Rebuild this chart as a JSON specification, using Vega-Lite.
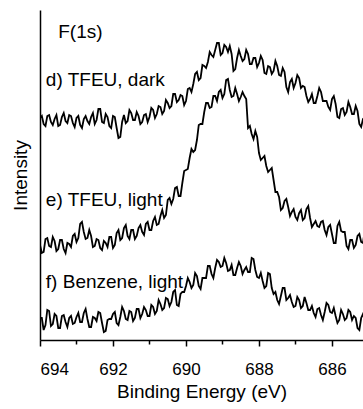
{
  "$schema": "https://vega.github.io/schema/vega-lite/v6.json",
  "width": 323,
  "height": 330,
  "autosize": {"type": "none"},
  "padding": {"left": 40, "top": 10, "right": 0, "bottom": 69},
  "background": "white",
  "config": {
    "font": "Liberation Sans",
    "view": {"stroke": null},
    "axis": {"grid": false, "domainColor": "black", "domainWidth": 1.5, "tickColor": "black", "tickWidth": 1.5, "labelColor": "black", "titleColor": "black", "titleFontWeight": "normal"}
  },
  "layer": [
    {
      "data": {"values": [
        {"E":694.0,"d":222,"e":95,"f":22},{"E":693.9,"d":216,"e":88,"f":10},{"E":693.8,"d":224,"e":102,"f":30},{"E":693.7,"d":218,"e":93,"f":14},{"E":693.6,"d":221,"e":99,"f":26},
        {"E":693.5,"d":214,"e":91,"f":12},{"E":693.4,"d":223,"e":100,"f":24},{"E":693.3,"d":219,"e":87,"f":18},{"E":693.2,"d":225,"e":96,"f":22},{"E":693.1,"d":217,"e":104,"f":16},
        {"E":693.0,"d":222,"e":98,"f":23},{"E":692.9,"d":215,"e":116,"f":18},{"E":692.8,"d":221,"e":108,"f":27},{"E":692.7,"d":219,"e":102,"f":21},{"E":692.6,"d":223,"e":104,"f":13},
        {"E":692.5,"d":216,"e":94,"f":22},{"E":692.4,"d":231,"e":100,"f":28},{"E":692.3,"d":218,"e":90,"f":17},{"E":692.2,"d":226,"e":97,"f":9},{"E":692.1,"d":214,"e":103,"f":21},
        {"E":692.0,"d":224,"e":92,"f":26},{"E":691.9,"d":212,"e":107,"f":17},{"E":691.8,"d":203,"e":100,"f":23},{"E":691.7,"d":225,"e":112,"f":29},{"E":691.6,"d":219,"e":104,"f":20},
        {"E":691.5,"d":227,"e":110,"f":28},{"E":691.4,"d":220,"e":101,"f":22},{"E":691.3,"d":224,"e":112,"f":31},{"E":691.2,"d":218,"e":108,"f":26},{"E":691.1,"d":226,"e":116,"f":30},
        {"E":691.0,"d":223,"e":110,"f":24},{"E":690.9,"d":230,"e":119,"f":33},{"E":690.8,"d":226,"e":115,"f":29},{"E":690.7,"d":233,"e":124,"f":36},{"E":690.6,"d":229,"e":122,"f":32},
        {"E":690.5,"d":237,"e":140,"f":41},{"E":690.4,"d":234,"e":136,"f":38},{"E":690.3,"d":246,"e":152,"f":50},{"E":690.2,"d":240,"e":144,"f":34},{"E":690.1,"d":244,"e":157,"f":48},
        {"E":690.0,"d":239,"e":170,"f":54},{"E":689.9,"d":252,"e":182,"f":58},{"E":689.8,"d":256,"e":188,"f":55},{"E":689.7,"d":268,"e":200,"f":64},{"E":689.6,"d":262,"e":216,"f":51},
        {"E":689.5,"d":274,"e":228,"f":62},{"E":689.4,"d":278,"e":237,"f":74},{"E":689.3,"d":285,"e":233,"f":66},{"E":689.2,"d":290,"e":244,"f":72},{"E":689.1,"d":297,"e":248,"f":78},
        {"E":689.0,"d":287,"e":242,"f":74},{"E":688.9,"d":293,"e":260,"f":77},{"E":688.8,"d":294,"e":250,"f":70},{"E":688.7,"d":269,"e":244,"f":65},{"E":688.6,"d":282,"e":246,"f":72},
        {"E":688.5,"d":284,"e":243,"f":74},{"E":688.4,"d":281,"e":244,"f":70},{"E":688.3,"d":286,"e":212,"f":68},{"E":688.2,"d":276,"e":206,"f":82},{"E":688.1,"d":282,"e":209,"f":70},
        {"E":688.0,"d":277,"e":187,"f":62},{"E":687.9,"d":280,"e":182,"f":59},{"E":687.8,"d":266,"e":174,"f":54},{"E":687.7,"d":273,"e":170,"f":66},{"E":687.6,"d":269,"e":160,"f":46},
        {"E":687.5,"d":274,"e":148,"f":40},{"E":687.4,"d":264,"e":130,"f":44},{"E":687.3,"d":268,"e":139,"f":52},{"E":687.2,"d":248,"e":133,"f":42},{"E":687.1,"d":261,"e":128,"f":38},
        {"E":687.0,"d":257,"e":123,"f":34},{"E":686.9,"d":262,"e":127,"f":40},{"E":686.8,"d":254,"e":120,"f":34},{"E":686.7,"d":244,"e":131,"f":37},{"E":686.6,"d":241,"e":122,"f":30},
        {"E":686.5,"d":237,"e":116,"f":27},{"E":686.4,"d":244,"e":114,"f":31},{"E":686.3,"d":248,"e":118,"f":25},{"E":686.2,"d":239,"e":110,"f":28},{"E":686.1,"d":233,"e":113,"f":35},
        {"E":686.0,"d":241,"e":106,"f":27},{"E":685.9,"d":236,"e":97,"f":24},{"E":685.8,"d":222,"e":118,"f":20},{"E":685.7,"d":232,"e":108,"f":26},{"E":685.6,"d":228,"e":94,"f":22},
        {"E":685.5,"d":233,"e":100,"f":28},{"E":685.4,"d":226,"e":92,"f":24},{"E":685.3,"d":229,"e":104,"f":12},{"E":685.2,"d":213,"e":98,"f":22},{"E":685.1,"d":223,"e":110,"f":20},
        {"E":693.95,"d":224,"e":87,"f":22},{"E":693.85,"d":214,"e":101,"f":15},{"E":693.75,"d":225,"e":94,"f":29},{"E":693.65,"d":215,"e":103,"f":16},{"E":693.55,"d":225,"e":89,"f":24},
        {"E":693.45,"d":215,"e":100,"f":12},{"E":693.35,"d":227,"e":91,"f":25},{"E":693.25,"d":217,"e":97,"f":13},{"E":693.15,"d":224,"e":93,"f":24},{"E":693.05,"d":213,"e":106,"f":17},
        {"E":692.95,"d":224,"e":102,"f":27},{"E":692.85,"d":212,"e":118,"f":18},{"E":692.75,"d":224,"e":101,"f":31},{"E":692.65,"d":216,"e":110,"f":13},{"E":692.55,"d":227,"e":93,"f":23},
        {"E":692.45,"d":220,"e":101,"f":19},{"E":692.35,"d":231,"e":92,"f":27},{"E":692.25,"d":217,"e":99,"f":8},{"E":692.15,"d":223,"e":93,"f":20},{"E":692.05,"d":212,"e":103,"f":21},
        {"E":691.95,"d":223,"e":95,"f":28},{"E":691.85,"d":202,"e":110,"f":15},{"E":691.75,"d":218,"e":102,"f":33},{"E":691.65,"d":217,"e":115,"f":21},{"E":691.55,"d":230,"e":101,"f":29},
        {"E":691.45,"d":220,"e":110,"f":19},{"E":691.35,"d":228,"e":104,"f":31},{"E":691.25,"d":216,"e":115,"f":22},{"E":691.15,"d":225,"e":105,"f":33},{"E":691.05,"d":218,"e":118,"f":24},
        {"E":690.95,"d":232,"e":110,"f":35},{"E":690.85,"d":222,"e":123,"f":26},{"E":690.75,"d":234,"e":116,"f":40},{"E":690.65,"d":226,"e":130,"f":30},{"E":690.55,"d":240,"e":125,"f":42},
        {"E":690.45,"d":232,"e":142,"f":34},{"E":690.35,"d":246,"e":141,"f":48},{"E":690.25,"d":238,"e":153,"f":35},{"E":690.15,"d":245,"e":144,"f":46},{"E":690.05,"d":235,"e":169,"f":48},
        {"E":689.95,"d":251,"e":171,"f":62},{"E":689.85,"d":248,"e":191,"f":52},{"E":689.75,"d":266,"e":190,"f":67},{"E":689.65,"d":260,"e":215,"f":54},{"E":689.55,"d":275,"e":216,"f":62},
        {"E":689.45,"d":272,"e":237,"f":62},{"E":689.35,"d":288,"e":232,"f":74},{"E":689.25,"d":283,"e":244,"f":62},{"E":689.15,"d":297,"e":239,"f":80},{"E":689.05,"d":285,"e":250,"f":73},
        {"E":688.95,"d":295,"e":246,"f":82},{"E":688.85,"d":288,"e":261,"f":69},{"E":688.75,"d":286,"e":243,"f":75},{"E":688.65,"d":271,"e":252,"f":65},{"E":688.55,"d":290,"e":239,"f":78},
        {"E":688.45,"d":279,"e":248,"f":66},{"E":688.35,"d":290,"e":241,"f":73},{"E":688.25,"d":276,"e":214,"f":68},{"E":688.15,"d":282,"e":201,"f":81},{"E":688.05,"d":273,"e":203,"f":63},
        {"E":687.95,"d":284,"e":180,"f":67},{"E":687.85,"d":267,"e":184,"f":52},{"E":687.75,"d":274,"e":168,"f":67},{"E":687.65,"d":266,"e":172,"f":52},{"E":687.55,"d":279,"e":148,"f":48},
        {"E":687.45,"d":265,"e":143,"f":36},{"E":687.35,"d":272,"e":132,"f":52},{"E":687.25,"d":253,"e":141,"f":40},{"E":687.15,"d":258,"e":124,"f":45},{"E":687.05,"d":252,"e":131,"f":33},
        {"E":686.95,"d":265,"e":120,"f":43},{"E":686.85,"d":252,"e":130,"f":32},{"E":686.75,"d":253,"e":122,"f":43},{"E":686.65,"d":238,"e":134,"f":30},{"E":686.55,"d":246,"e":113,"f":34},
        {"E":686.45,"d":237,"e":119,"f":23},{"E":686.35,"d":252,"e":113,"f":32},{"E":686.25,"d":239,"e":119,"f":20},{"E":686.15,"d":239,"e":105,"f":37},{"E":686.05,"d":230,"e":115,"f":28},
        {"E":685.95,"d":244,"e":97,"f":32},{"E":685.85,"d":223,"e":114,"f":17},{"E":685.75,"d":231,"e":109,"f":30},{"E":685.65,"d":225,"e":108,"f":20},{"E":685.55,"d":238,"e":91,"f":30},
        {"E":685.45,"d":226,"e":100,"f":20},{"E":685.35,"d":234,"e":95,"f":22},{"E":685.25,"d":216,"e":106,"f":10},{"E":685.15,"d":221,"e":97,"f":26}
      ]},
      "transform": [{"fold": ["d", "e", "f"], "as": ["series", "I"]}],
      "mark": {"type": "line", "color": "black", "strokeWidth": 1.8, "clip": true},
      "encoding": {
        "x": {
          "field": "E", "type": "quantitative",
          "scale": {"domain": [694, 685.15], "nice": false, "zero": false},
          "axis": {
            "title": "Binding Energy (eV)", "titleFontSize": 19, "titlePadding": 5,
            "values": [694, 693, 692, 691, 690, 689, 688, 687, 686],
            "labelExpr": "datum.value % 2 === 0 ? datum.label : ''",
            "format": "d", "labelFontSize": 17, "labelPadding": 15,
            "tickSize": {"expr": "datum.value % 2 === 0 ? 6 : 4"}
          }
        },
        "y": {
          "field": "I", "type": "quantitative",
          "scale": {"domain": [0, 330], "nice": false},
          "axis": {"title": "Intensity", "titleFontSize": 19, "titlePadding": 10, "ticks": false, "labels": false}
        },
        "detail": {"field": "series"}
      }
    },
    {
      "data": {"values": [
        {"E": 693.5, "I": 308, "label": "F(1s)"},
        {"E": 693.84, "I": 260, "label": "d) TFEU, dark"},
        {"E": 693.84, "I": 140, "label": "e) TFEU, light"},
        {"E": 693.84, "I": 58, "label": "f) Benzene, light"}
      ]},
      "mark": {"type": "text", "align": "left", "baseline": "middle", "fontSize": 19, "color": "black"},
      "encoding": {
        "x": {"field": "E", "type": "quantitative"},
        "y": {"field": "I", "type": "quantitative"},
        "text": {"field": "label"}
      }
    }
  ]
}
